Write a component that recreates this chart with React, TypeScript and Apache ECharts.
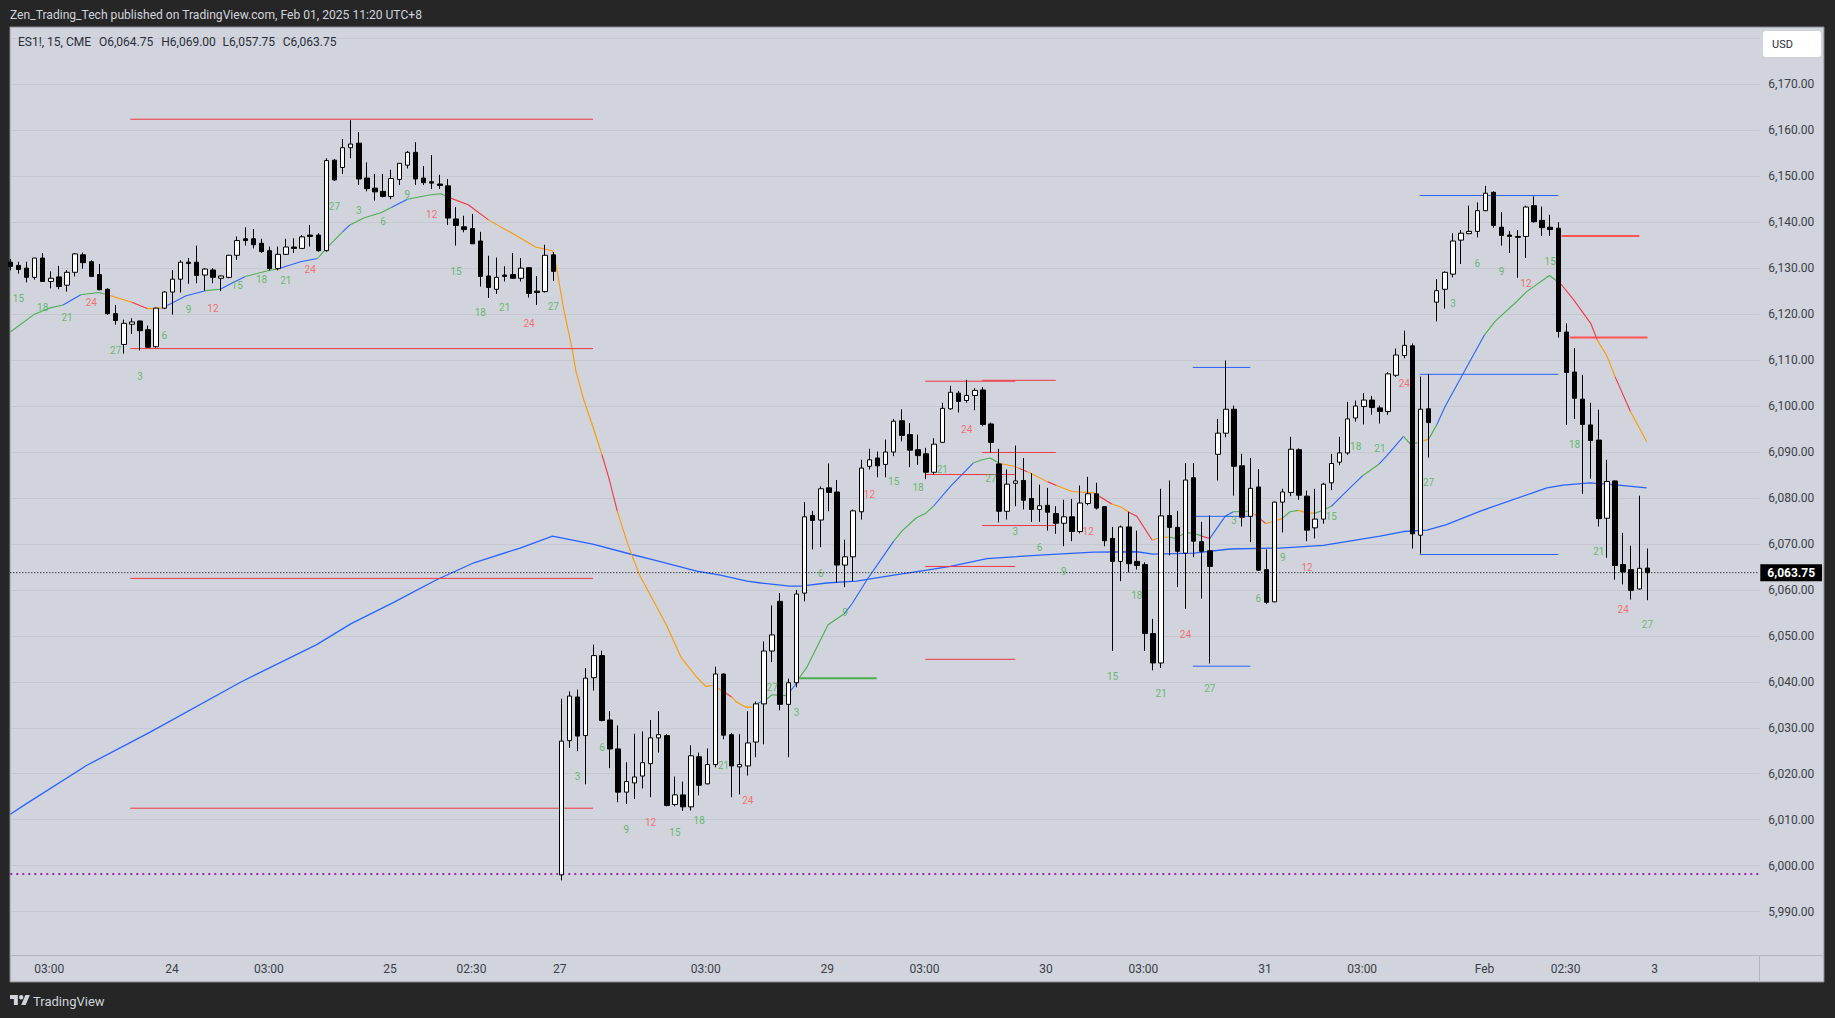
import React, { useEffect, useRef } from "react";
import * as echarts from "echarts";

// Candles are [open, close, low, high]; bar index = position across the sessions.
const candlesJan23 = [
  [6131.3,6130.4,6129.5,6132],[6130.6,6129.7,6128.8,6131.4],[6130,6128,6126.9,6131.4],[6128,6132.2,6127.5,6132.2],
  [6132.2,6127.1,6127,6133.3],[6127.1,6127.8,6125.6,6129.3],[6128.1,6126,6125.4,6130.5],[6126.3,6129.1,6124.9,6129.6],
  [6129.1,6133.1,6128.2,6133.3],[6132.9,6131.2,6129.9,6133.4],[6131.4,6128.2,6128.2,6131.7],[6128.6,6125.3,6125.2,6130.9],
  [6125.4,6120.1,6119.8,6125.6],[6120.1,6118.6,6117.7,6122],[6113.4,6118,6111.4,6118.8],[6117.8,6118.3,6115.7,6119.1],
  [6118.5,6116.4,6112.1,6118.6],[6116.6,6112.8,6112.7,6117.5],[6112.9,6121.3,6112.7,6121.4],[6121.3,6124.8,6121.1,6125],
  [6124.8,6127.6,6119.9,6129.6],[6127.6,6131.3,6124.7,6131.7],[6131.3,6131,6126.6,6132.2],[6131.3,6128.4,6126.7,6134.9],
  [6128.5,6129.8,6125.1,6130],[6129.6,6128,6126.7,6130],[6127.8,6128.3,6125,6128.4],[6128,6132.8,6127.8,6132.9],
  [6132.8,6136,6131.8,6136.9],[6136.4,6136,6134.9,6138.9],[6136.4,6135.1,6134.3,6138.5],[6135.4,6133.6,6133.3,6136.4],
  [6133.8,6129.9,6129.5,6134.7],[6129.9,6133,6129.5,6134.7],[6133,6134.6,6132.9,6136.4],[6134.6,6134.3,6133.3,6136.5],
  [6134.3,6136.8,6134.2,6137.2],[6137.2,6136.9,6134.7,6139.4],[6137.2,6133.8,6133.6,6137.6],[6133.8,6153.4,6133.6,6153.9],
];
const candlesJan24 = [
  [6153.5,6149.2,6149,6153.7],[6151.9,6156.2,6150.5,6158.1],[6156.2,6157,6153.9,6162.2],[6157.2,6149.4,6148.1,6159.6],
  [6149.6,6147.3,6146.7,6153],[6147.4,6146.6,6144.7,6150.5],[6146.7,6145.6,6145.4,6150.5],[6145.6,6149.5,6145,6151.4],
  [6149.3,6152.8,6148.1,6152.8],[6152.4,6155.2,6151.7,6155.5],[6155.2,6149.4,6148.1,6157.4],[6149.6,6148.6,6148.1,6152.2],
  [6148.8,6148.5,6147.2,6154.6],[6148.3,6148,6147.2,6150.3],[6147.9,6140.9,6139.4,6149.4],[6140.7,6139.3,6134.9,6143.3],
  [6139,6138.4,6137.8,6141.4],[6138.6,6135.3,6135.3,6141.8],[6135.9,6128.2,6126,6137.9],[6128.3,6125.8,6123.5,6132.7],
  [6125.4,6128,6124.4,6132.3],[6128.5,6128.2,6127.1,6130.4],[6128.6,6127.8,6127.7,6133.3],[6127.8,6130,6127.1,6132.2],
  [6130.1,6124.5,6123.6,6130.2],[6125,6124.7,6122,6128.3],[6124.9,6132.8,6124.7,6135.1],[6132.9,6129.3,6127.2,6133.5],
];
const candlesJan27 = [
  [5998,6027.1,5996.8,6036.3],[6027.2,6036.9,6025.6,6037.9],[6036.7,6028.2,6024.9,6038.3],[6028.3,6040.8,6017.7,6043],
  [6040.9,6045.7,6038.1,6048.1],[6045.7,6031.6,6031.4,6046.8],[6031.7,6025.4,6021.2,6033.6],[6025.4,6016,6013.8,6030.5],
  [6016,6018.3,6013.4,6022.5],[6018,6019.3,6014.5,6028.7],[6019.5,6022.4,6016.8,6029.2],[6022.2,6027.8,6014.9,6031.7],
  [6027.8,6028.5,6024.6,6033.6],[6028.3,6013.1,6012.9,6028.6],[6013.3,6015.4,6012.9,6019.4],[6015.4,6012.8,6011.9,6018.3],
  [6012.8,6023.9,6012,6026.2],[6023.7,6017.5,6015.3,6024.6],[6017.8,6022,6017.7,6025.5],[6022,6041.7,6021.4,6043.3],
  [6041.7,6028.4,6027.5,6041.8],[6028.5,6021.7,6014.9,6028.9],[6021.5,6022,6015.5,6028.6],[6021.7,6026.7,6019.6,6033.6],
  [6026.9,6035.2,6023.6,6035.7],[6035.2,6046.7,6026.4,6048.8],[6046.7,6050.2,6044.3,6056.6],[6057.5,6035.1,6033.8,6059.3],
  [6035.1,6039.8,6023.6,6040.7],[6039.8,6059.1,6038.8,6060],
];
const candlesJan29 = [
  [6059.3,6075.9,6057.5,6079.1],[6076.2,6075.1,6068.8,6077.2],[6075.2,6082,6069.3,6082.5],[6082.2,6081.2,6077.1,6087.5],
  [6081.3,6065.4,6061.5,6083.9],[6065.4,6067.2,6060.6,6070.9],[6067.2,6077.2,6061.9,6077.5],[6077,6086.5,6075.3,6088.3],
  [6086.9,6088.3,6086.2,6090.7],[6088.7,6087,6084.5,6090.1],[6087.3,6090,6084.5,6092.7],[6090,6096.7,6089.1,6097.2],
  [6096.8,6093.6,6092.3,6099.3],[6093.8,6090.4,6086.7,6096.3],[6090.5,6089.2,6087.2,6093.8],[6089.6,6085.6,6084.1,6090.9],
  [6085.6,6091.7,6085.1,6093],[6092.1,6099.5,6092,6100.7],[6099.4,6103,6099.2,6104.4],[6102.8,6101,6098.6,6103.3],
  [6101.2,6102.3,6100.7,6105.7],[6102.3,6103.4,6099.1,6103.9],[6103.5,6096,6095.6,6104.1],[6096.1,6092.1,6089.9,6096.4],
  [6087.4,6077.1,6074.7,6090.7],[6077.1,6083,6075.3,6086.2],[6083.2,6083.7,6078.2,6091.4],[6083.8,6079.5,6077.5,6088.7],
  [6079.9,6077.5,6074.8,6085.4],[6077.5,6078.3,6074.8,6082.9],[6078.4,6076.9,6072.9,6082.2],[6076.6,6074.5,6072.2,6078.2],
  [6074.5,6075.9,6069.5,6079.6],[6075.9,6072.7,6070.6,6079.8],[6072.7,6078.9,6072.3,6082.7],[6078.8,6080.9,6078.4,6084.6],
];
const candlesJan30 = [
  [6080.9,6077.8,6077.5,6083.3],[6078.1,6070.7,6069.5,6078.2],[6071.2,6066.2,6046.7,6073.7],[6066.2,6073.7,6061.9,6074],
  [6073.7,6065.7,6063.8,6077],[6066.2,6065.3,6064.4,6072.9],[6065.5,6050.5,6046.7,6066],[6050.5,6044.1,6042.5,6053.7],
  [6044.1,6076.1,6043,6082],[6076.2,6073.6,6067.5,6083.8],[6073.6,6068.4,6060.6,6077.2],[6068,6083.9,6055.9,6087.6],
  [6084.4,6070.6,6067.1,6087.6],[6070.5,6068.4,6058.1,6074.8],[6068.5,6065.1,6044,6076.2],[6089.5,6094.1,6083.8,6097.2],
  [6094.1,6099.3,6093.2,6109.9],[6099.3,6086.9,6080.5,6100.1],[6087,6075.8,6073.8,6089.6],[6076,6082.1,6070.4,6088.7],
  [6082.4,6064.3,6064.2,6086.3],[6064.4,6057.3,6056.9,6068.8],
];
const candlesJan31 = [
  [6057.4,6079.1,6057.3,6079.2],[6079.1,6081.3,6072.5,6082],[6081.2,6090.6,6080.4,6093.3],[6090.5,6080.6,6079.6,6090.8],
  [6080.4,6073,6070.6,6081.6],[6073.5,6075.4,6071.2,6082],[6075.4,6083,6074.4,6083.3],[6083.3,6087.5,6081.7,6089.6],
  [6087.8,6089.8,6087.1,6093.3],[6089.8,6097.2,6089.4,6100.9],[6097.4,6100,6096.6,6101.2],[6099.9,6101.3,6096,6102.8],
  [6101.3,6099.7,6098.1,6102.2],[6099.6,6098.8,6096.2,6100.1],[6098.8,6107,6098.1,6107.4],[6106.7,6111.1,6106.3,6112.5],
  [6111,6113.2,6110.4,6116.4],[6113.1,6072.2,6069,6113.6],[6071.9,6099.3,6067.9,6106.4],[6099.4,6096.4,6088.8,6107],
];
const candlesFeb = [
  [6122.6,6125.1,6118.4,6127.6],[6125.4,6129.1,6121.2,6129.3],[6128.7,6135.9,6128,6137.6],[6136.1,6137.6,6130.9,6138.3],
  [6137.5,6138,6137.4,6143.6],[6138,6142.5,6136.7,6144.3],[6142.5,6146.3,6142.4,6147.9],[6146.5,6139.3,6138.8,6146.7],
  [6138.9,6137.1,6134.9,6142.2],[6137.2,6136.9,6133.3,6138.1],[6136.9,6136.7,6127.9,6138.3],[6136.9,6143.3,6132.2,6143.6],
  [6143.6,6140.1,6139.9,6145.6],[6140.4,6138.8,6137,6143.4],[6138.9,6138.4,6137,6141.6],[6138.7,6116.2,6114.9,6140],
  [6116.1,6107.3,6095.9,6118],[6107.4,6101.7,6097.2,6112.6],[6101.5,6096,6080.9,6106.8],[6095.9,6092.5,6084.2,6100.7],
  [6092.6,6075.5,6073.8,6099.2],[6075.6,6083.6,6067,6088.3],[6083.7,6065.3,6062.2,6083.8],[6065.5,6063.9,6061.2,6072.4],
  [6064.4,6059.9,6057.9,6069.6],[6060.2,6064.7,6060.1,6080.5],[6064.75,6063.75,6057.75,6069],
];

// Trend line: vertices (bar, price), and the bars where its colour changes.
const trendBars = [0,2.9,4.8,6.5,8.7,10.9,12,15,16.9,18.7,21.7,24.1,25.9,27.5,29,31.9,33,35.8,37.9,39.2,41,41.9,43.6,45.8,47,49,51.7,53.1,54.1,56.5,59,62.6,64.8,66.9,67.3,68.3,69.3,69.8,70.75,72,73,73.8,74.9,76.2,76.9,77.7,79.6,81,82.8,84.7,85.8,86.7,87.8,89,89.6,90.7,91.7,92.3,93.3,94,95.8,96.8,97.2,98.3,100.9,102.9,103.9,105.7,107.7,109,110,111.8,112.9,113.9,116,118.8,119.9,120.9,122.1,123.8,124.5,125.5,128,129.1,131,133.7,135.9,137.1,138,139,140.9,141.7,142.9,143.7,145,146,147,148,149.9,150.9,152.7,153.6,154.9,156.9,157.9,158.9,160.1,161,161.8,163,163.8,165.3,166.9,168.9,169.8,171.9,172.7,173.6,175,176,177,179.3,181.9,183.2,185.9,187.1,189.9,191.3,192.9,195,195.8,197,198,199.9,201.9];
const trendPrices = [6116.1,6119.9,6121.3,6122,6124.2,6124.7,6124.2,6122.6,6121.2,6121.3,6124,6125.1,6125.4,6126.9,6128.2,6129.5,6129.8,6131.4,6132.1,6134.7,6137.9,6139.4,6140.9,6142.1,6143.2,6145,6145.9,6146.2,6145.4,6143.8,6140.5,6136.9,6134.6,6133.8,6131.1,6120.9,6112.6,6107.5,6101.4,6094.9,6089.4,6084.7,6077.1,6069.9,6066.6,6063,6056.8,6052.2,6045.2,6041,6039,6039.2,6038.1,6036.7,6035.6,6034.5,6034.5,6035.4,6036.2,6037.2,6037,6039.2,6040.5,6043.2,6052.4,6054.8,6057.1,6062.2,6067.3,6070.6,6072.8,6075.7,6076.6,6078.2,6082.5,6087.6,6088.3,6088.7,6087.5,6086.9,6086.4,6085.7,6083.5,6082.7,6081.4,6081.1,6078.7,6078,6076.9,6076,6070.8,6071.3,6071.5,6071.2,6072.4,6072.4,6071.7,6071.2,6076,6077,6077.1,6076.4,6074.4,6075.5,6077,6077.3,6076.7,6076.7,6077.2,6078.2,6079.6,6082.2,6084.9,6087.4,6089.1,6093.4,6091.8,6092,6092.8,6095.9,6099.8,6107.2,6115.5,6118.4,6122.8,6124.9,6128.4,6126.6,6123.1,6118,6114.4,6110.9,6106.4,6098.8,6092.3];
const trendColorBars = [0,6.5,8.7,12,15,16.9,18.7,24.1,25.9,29,33,37.9,41,41.9,47,49,54.1,59,73,74.9,87.8,89,91.7,92.3,93.3,95.8,97.2,102.9,109,113.9,118.8,122.1,124.5,125.5,128,129.1,133.7,135.9,138,140.9,142.9,147,148,150.9,152.7,153.6,154.9,156.9,158.9,161,163,166.9,168.9,171.9,173.6,175,176,181.9,191.3,195.8,198,199.9];
const trendColorCodes = "G B G O R O B G B G B G B G B G R O R O R O G B G B G B G B G O R O R O R O R O G R B G O R O G O G B G B G O G B G R O R O".split(" ");

const slowBars = [0,2,9.4,17.2,28.4,37.8,42,47.3,52.6,57.2,62.9,66.9,72,76.7,79.6,84.7,87.6,90.9,92.6,96.2,97.6,100.7,104.4,109,113.1,116,120.5,123.8,127.5,133.7,139,141,146,150.5,156.6,162,169,171.9,174.8,177.2,181.3,189.6,191.6,194.9,197.8,201.9];
const slowPrices = [6011.2,6013.5,6021.8,6029,6039.9,6048.1,6052.6,6057.3,6062.2,6065.9,6069.1,6071.7,6069.9,6067.7,6066.4,6064.1,6063.2,6061.9,6061.5,6060.8,6060.8,6061.5,6061.9,6063.2,6064.3,6065.1,6066.8,6067.2,6067.6,6068.2,6068.3,6067.8,6068,6068.9,6069.1,6069.7,6071.7,6072.7,6073,6074.2,6077.1,6082.2,6082.8,6083.3,6082.9,6082.2];

// Levels: [first bar, last bar, price]
const redLevels = [
  [14.8,71.9,6162.4],[14.8,71.9,6112.5],[14.8,71.9,6062.5],[14.8,71.9,6012.5],
  [112.9,124,6105.4],[112.9,124,6085.1],[112.9,124,6065.1],[112.9,124,6044.9],
  [119.9,129,6105.6],[119.9,129,6089.9],[119.9,129,6074],
];
const thickRedLevels = [[191.4,201,6137],[192.4,202,6114.9]];
const greenLevels = [[97.2,106.9,6040.8]];
const blueLevels = [
  [145.9,153,6108.4],[145.9,153,6076],[145.9,153,6043.4],
  [173.9,191,6145.8],[173.9,191,6106.9],[173.9,191,6067.7],
];
const supportPrice = 5998.2;
const lastPrice = 6063.75;

// Bar counters: [bar, price, text]
const greenCounts = [
  [1,6123.3,"15"],[4,6121.4,"18"],[7,6119.3,"21"],[13,6112.1,"27"],[16,6106.4,"3"],[19,6115.4,"6"],[22,6121.1,"9"],[28,6126.3,"15"],[31,6127.6,"18"],[34,6127.3,"21"],[40,6143.4,"27"],[43,6142.5,"3"],[46,6140.1,"6"],[49,6146.1,"9"],[55,6129.3,"15"],[58,6120.4,"18"],[61,6121.5,"21"],[67,6121.7,"27"],
  [70,6019.3,"3"],[73,6025.8,"6"],[76,6007.8,"9"],[82,6007.3,"15"],[85,6009.8,"18"],[88,6021.9,"21"],[94,6038.7,"27"],[97,6033.3,"3"],[100,6063.6,"6"],[103,6055,"9"],[109,6083.5,"15"],[112,6082.2,"18"],[115,6086.2,"21"],[121,6084.3,"27"],[124,6072.6,"3"],[127,6069.3,"6"],[130,6063.9,"9"],[136,6041.1,"15"],[139,6058.8,"18"],[142,6037.4,"21"],[148,6038.5,"27"],[151,6075,"3"],[154,6058.2,"6"],[157,6067,"9"],[163,6076,"15"],[166,6091.1,"18"],[169,6090.7,"21"],[175,6083.3,"27"],[178,6122.3,"3"],[181,6131,"6"],[184,6129.3,"9"],[190,6131.4,"15"],[193,6091.7,"18"],[196,6068.3,"21"],[202,6052.4,"27"],
];
const redCounts = [
  [10,6122.6,"24"],[25,6121.2,"12"],[37,6129.8,"24"],[52,6141.7,"12"],[64,6118,"24"],[79,6009.3,"12"],[91,6014.1,"24"],[106,6080.7,"12"],[118,6095,"24"],[133,6072.8,"12"],[145,6050.4,"24"],[160,6064.9,"12"],[172,6104.8,"24"],[187,6126.7,"12"],[199,6055.7,"24"],
];

const timeTicks = [4.8,19.95,31.9,46.85,56.9,67.8,85.8,100.8,112.8,127.8,139.8,154.8,166.8,181.9,191.9,202.9];
const timeLabels = ["03:00","24","03:00","25","02:30","27","03:00","29","03:00","30","03:00","31","03:00","Feb","02:30","3"];
const priceGridTicks = [5990,6000,6010,6020,6030,6040,6050,6060,6070,6080,6090,6100,6110,6120,6130,6140,6150,6160,6170,6180];
const priceLabelTicks = [5990,6000,6010,6020,6030,6040,6050,6060,6070,6080,6090,6100,6110,6120,6130,6140,6150,6160,6170];

const headerText = "Zen_Trading_Tech published on TradingView.com, Feb 01, 2025 11:20 UTC+8";
const symbolText = "ES1!, 15, CME";
const quoteTexts = ["O6,064.75", "H6,069.00", "L6,057.75", "C6,063.75"];
const quoteLefts = [99, 161.3, 222.6, 282.7];

const FONT = "Roboto, 'Liberation Sans', sans-serif";
const COLORS: Record<string, string> = { G: "#4caf50", B: "#2962ff", O: "#ff9800", R: "#f23645" };
const fmtPrice = (v: number) =>
  v.toLocaleString("en-US", { minimumFractionDigits: 2, maximumFractionDigits: 2 });

echarts.graphic.registerShape(
  "tvLogo",
  echarts.graphic.extendPath("M14 22H7V11H0V4h14v18zM28 22h-8l7.5-18h8L28 22zM24 8a4 4 0 1 1-8 0a4 4 0 0 1 8 0z", {})
);

function levelSeries(levels: number[][], color: string, width: number) {
  const data: (number | null)[][] = [];
  levels.forEach(([a, b, p]) => {
    data.push([a, p], [b, p], [b, null]);
  });
  return {
    type: "line", data, showSymbol: false, silent: true, z: 2,
    lineStyle: { color, width }, connectNulls: false,
  };
}

function codeAt(bar: number) {
  let c = trendColorCodes[0];
  trendColorBars.forEach((b, i) => {
    if (b <= bar) c = trendColorCodes[i];
  });
  return c;
}

function trendSeries() {
  const out: any[] = [];
  let k = 0;
  while (k < trendBars.length - 1) {
    const code = codeAt(trendBars[k]);
    let e = k + 1;
    while (e < trendBars.length - 1 && codeAt(trendBars[e]) === code) e++;
    const data: number[][] = [];
    for (let j = k; j <= e; j++) data.push([trendBars[j], trendPrices[j]]);
    out.push({
      type: "line", data, showSymbol: false, silent: true, z: 2,
      lineStyle: { color: COLORS[code], width: 1.1 },
    });
    k = e;
  }
  return out;
}

function countSeries(data: any[], color: string) {
  return {
    type: "scatter", data, symbolSize: 1, silent: true, z: 5,
    itemStyle: { color: "transparent" },
    label: {
      show: true, position: "inside", color, fontSize: 10, fontFamily: FONT,
      formatter: (p: any) => p.value[2],
    },
  };
}

export default function App() {
  const ref = useRef<HTMLDivElement>(null);
  useEffect(() => {
    const chart = echarts.init(ref.current!, null, { renderer: "svg" });
    const candles = [...candlesJan23, ...candlesJan24, ...candlesJan27, ...candlesJan29, ...candlesJan30, ...candlesJan31, ...candlesFeb];
    const axisTop = 27.3, axisH = 928, left = 10.3, plotW = 1749;
    chart.setOption({
      animation: false,
      backgroundColor: "#262626",
      grid: { left, top: axisTop, width: plotW, height: axisH },
      xAxis: {
        type: "value", min: 0, max: 215.8, splitLine: { show: false },
        axisLine: { show: true, onZero: false, lineStyle: { color: "#b2b5be" } },
        axisTick: { show: false, customValues: timeTicks },
        axisLabel: {
          customValues: timeTicks, color: "#3a3e49", fontSize: 12, fontFamily: FONT, margin: 8,
          showMinLabel: true, showMaxLabel: true,
          formatter: (v: number) => timeLabels[timeTicks.indexOf(v)] ?? "",
        },
      },
      yAxis: {
        type: "value", position: "right", min: 5980.5, max: 6182.4, scale: true,
        axisLine: { show: true, lineStyle: { color: "#b2b5be" } },
        axisTick: { show: false, customValues: priceGridTicks },
        splitLine: { show: true, lineStyle: { color: "#c5c8d1", width: 1 } },
        axisLabel: {
          customValues: priceLabelTicks, color: "#3a3e49", fontSize: 12, fontFamily: FONT, margin: 9,
          formatter: (v: number) => fmtPrice(v),
        },
      },
      graphic: [
        { type: "rect", z: -10, silent: true, shape: { x: 10, y: 27, width: 1814, height: 955 }, style: { fill: "#d1d4dc", stroke: "#85888f", lineWidth: 1 } },
        { type: "line", z: 1, silent: true, shape: { x1: 1759, y1: 955.5, x2: 1824, y2: 955.5 }, style: { stroke: "#b2b5be", lineWidth: 1 } },
        { type: "line", z: 1, silent: true, shape: { x1: 1759.5, y1: 955, x2: 1759.5, y2: 982 }, style: { stroke: "#b2b5be", lineWidth: 1 } },
        { type: "text", z: 50, silent: true, x: 10, y: 15, style: { text: headerText, fill: "#d1d4dc", font: `12.1px ${FONT}`, verticalAlign: "middle" } },
        { type: "text", z: 50, silent: true, x: 18, y: 41.5, style: { text: symbolText, fill: "#2a2e39", font: `12px ${FONT}`, verticalAlign: "middle" } },
        ...quoteTexts.map((t, i) => ({
          type: "text", z: 50, silent: true, x: quoteLefts[i], y: 41.5,
          style: { text: t, fill: "#2a2e39", font: `12px ${FONT}`, verticalAlign: "middle" },
        })),
        { type: "rect", z: 50, silent: true, shape: { x: 1763, y: 31, width: 58, height: 26, r: 3 }, style: { fill: "#ffffff" } },
        { type: "text", z: 51, silent: true, x: 1772, y: 44, style: { text: "USD", fill: "#2a2e39", font: `11px ${FONT}`, verticalAlign: "middle" } },
        { type: "tvLogo", z: 50, silent: true, x: 10, y: 992.8, scaleX: 0.56, scaleY: 0.56, style: { fill: "#d1d4dc" } },
        { type: "text", z: 50, silent: true, x: 33, y: 1001, style: { text: "TradingView", fill: "#d1d4dc", font: `13px ${FONT}`, verticalAlign: "middle" } },
      ],
      series: [
        {
          type: "line", data: [[0, supportPrice], [215.8, supportPrice]], showSymbol: false, silent: true, z: 2,
          lineStyle: { color: "#9c27b0", width: 2, type: [2, 4] },
        },
        {
          type: "line", data: [[0, lastPrice], [215.8, lastPrice]], showSymbol: false, silent: true, z: 6,
          lineStyle: { color: "#000000", width: 1, type: [1, 2] },
          endLabel: {
            show: true, formatter: () => fmtPrice(lastPrice), color: "#ffffff", backgroundColor: "#000000",
            fontSize: 12, fontWeight: "bold", fontFamily: FONT, padding: [2, 7, 2, 7], distance: 1, lineHeight: 13,
          },
        },
        {
          type: "line", data: slowBars.map((b, i) => [b, slowPrices[i]]), showSymbol: false, silent: true, z: 2,
          lineStyle: { color: "#2962ff", width: 1.3 },
        },
        ...trendSeries(),
        levelSeries(redLevels, "#f23645", 1),
        levelSeries(thickRedLevels, "#ff5252", 2),
        levelSeries(greenLevels, "#4caf50", 2),
        levelSeries(blueLevels, "#2962ff", 1),
        {
          type: "candlestick", z: 4, silent: true, barWidth: 5,
          encode: { x: 0, y: [1, 2, 3, 4] },
          data: candles.map((c, i) => [i, ...c]),
          itemStyle: { color: "#ffffff", color0: "#000000", borderColor: "#000000", borderColor0: "#000000", borderWidth: 1 },
        },
        countSeries(greenCounts, "#4caf50"),
        countSeries(redCounts, "#ff5252"),
      ],
    });
    return () => chart.dispose();
  }, []);
  return <div ref={ref} style={{ position: "absolute", left: 0, top: 0, width: 1835, height: 1018 }} />;
}
